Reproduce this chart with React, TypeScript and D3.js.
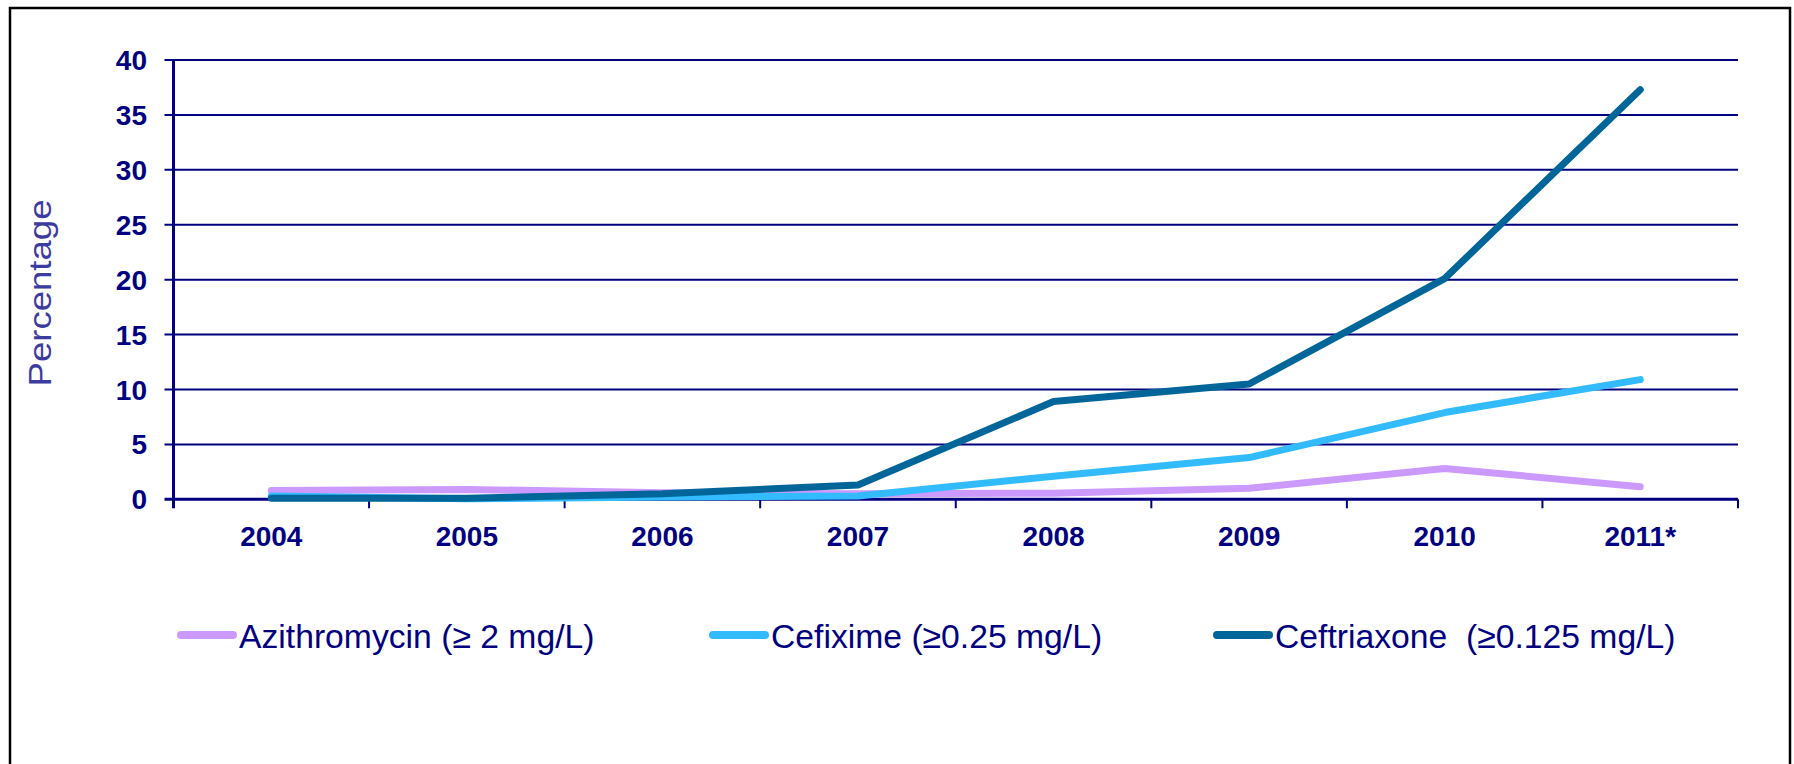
import React, { useRef, useEffect } from 'react';
import * as d3 from 'd3';

const years = ['2004', '2005', '2006', '2007', '2008', '2009', '2010', '2011*'];
const azithromycin = [0.8, 0.9, 0.6, 0.5, 0.55, 1.0, 2.8, 1.15];
const cefixime = [0.3, 0.05, 0.2, 0.3, 2.1, 3.8, 7.9, 10.9];
const ceftriaxone = [0.1, 0.1, 0.5, 1.3, 8.9, 10.5, 20.1, 37.3];
const yTicks = [0, 5, 10, 15, 20, 25, 30, 35, 40];
const seriesNames = ['Azithromycin (≥ 2 mg/L)', 'Cefixime (≥0.25 mg/L)', 'Ceftriaxone  (≥0.125 mg/L)'];
const seriesColors = ['#CC99FF', '#33BBFF', '#006699'];

const NAVY = '#000080';
const FONT = '"Liberation Sans", Arial, sans-serif';

const App = () => {
  const svgRef = useRef(null);

  useEffect(() => {
    const W = 1794;
    const H = 764;
    const left = 173.5;
    const right = 1738;
    const top = 60;
    const bottom = 499.3;
    const tick = 9;

    const svg = d3.select(svgRef.current).attr('width', W).attr('height', H);
    svg.selectAll('*').remove();

    // outer frame
    svg.append('rect')
      .attr('x', 10).attr('y', 8)
      .attr('width', 1780).attr('height', 770)
      .attr('fill', 'white').attr('stroke', 'black').attr('stroke-width', 2.5);

    const x = d3.scaleBand().domain(years).range([left, right]);
    const y = d3.scaleLinear().domain([0, 40]).range([bottom, top]);

    // gridlines (also serve as y ticks)
    svg.append('g').selectAll('line')
      .data(yTicks.filter(d => d > 0))
      .join('line')
      .attr('x1', left - tick).attr('x2', right)
      .attr('y1', d => y(d)).attr('y2', d => y(d))
      .attr('stroke', NAVY).attr('stroke-width', 2);

    // y tick labels
    svg.append('g').selectAll('text')
      .data(yTicks)
      .join('text')
      .attr('x', 147).attr('y', d => y(d))
      .attr('dy', '0.36em')
      .attr('text-anchor', 'end')
      .attr('font-family', FONT).attr('font-weight', 'bold').attr('font-size', 28)
      .attr('fill', NAVY)
      .text(d => d);

    // y axis line
    svg.append('line')
      .attr('x1', left).attr('x2', left)
      .attr('y1', top).attr('y2', bottom + tick)
      .attr('stroke', NAVY).attr('stroke-width', 3);

    // x axis line + ticks between categories
    svg.append('line')
      .attr('x1', left - tick).attr('x2', right)
      .attr('y1', bottom).attr('y2', bottom)
      .attr('stroke', NAVY).attr('stroke-width', 3);

    const bounds = years.slice(1).map(d => x(d)).concat([right]);
    svg.append('g').selectAll('line')
      .data(bounds)
      .join('line')
      .attr('x1', d => d).attr('x2', d => d)
      .attr('y1', bottom).attr('y2', bottom + tick)
      .attr('stroke', NAVY).attr('stroke-width', 2);

    // x labels
    svg.append('g').selectAll('text')
      .data(years)
      .join('text')
      .attr('x', d => x(d) + x.bandwidth() / 2)
      .attr('y', 545.5)
      .attr('text-anchor', 'middle')
      .attr('font-family', FONT).attr('font-weight', 'bold').attr('font-size', 28)
      .attr('fill', NAVY)
      .text(d => d);

    // y title
    svg.append('text')
      .attr('transform', 'translate(51,293) rotate(-90)')
      .attr('text-anchor', 'middle')
      .attr('font-family', FONT).attr('font-size', 31)
      .attr('textLength', 187).attr('lengthAdjust', 'spacingAndGlyphs')
      .attr('fill', '#3C3CA0')
      .text('Percentage');

    // lines
    const line = d3.line()
      .x((d, i) => x(years[i]) + x.bandwidth() / 2)
      .y(d => y(d));

    [azithromycin, cefixime, ceftriaxone].forEach((s, i) => {
      svg.append('path')
        .datum(s)
        .attr('d', line)
        .attr('fill', 'none')
        .attr('stroke', seriesColors[i])
        .attr('stroke-width', 7)
        .attr('stroke-linecap', 'round')
        .attr('stroke-linejoin', 'round');
    });

    // legend
    const legendX = [177, 709, 1213];
    const legendY = 635;
    const legend = svg.append('g').selectAll('g')
      .data(seriesNames)
      .join('g')
      .attr('transform', (d, i) => `translate(${legendX[i]},${legendY})`);

    legend.append('line')
      .attr('x1', 4).attr('x2', 56)
      .attr('stroke', (d, i) => seriesColors[i])
      .attr('stroke-width', 8)
      .attr('stroke-linecap', 'round');

    legend.append('text')
      .attr('x', 62).attr('y', 12.5)
      .attr('font-family', FONT).attr('font-size', 33.7)
      .attr('fill', NAVY)
      .style('white-space', 'pre')
      .text(d => d);
  }, []);

  return <svg ref={svgRef} style={{ position: 'absolute', left: 0, top: 0 }} />;
};

export default App;
